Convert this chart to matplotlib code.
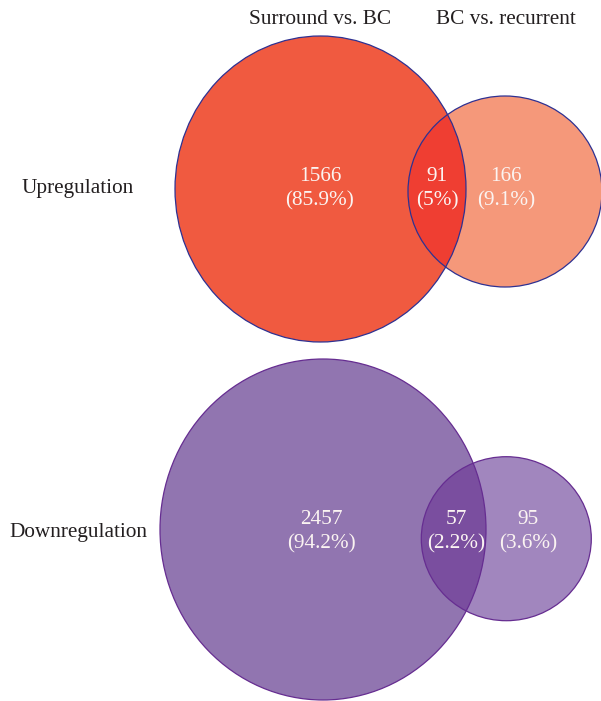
#%% Imports
import numpy as np
import matplotlib
matplotlib.use('Agg')
import matplotlib.pyplot as plt
from matplotlib.patches import Ellipse


#%% Data
set_names = ['Surround vs. BC', 'BC vs. recurrent']
row_names = ['Upregulation', 'Downregulation']
# counts: only left, shared, only right
up_counts = [1566, 91, 166]
down_counts = [2457, 57, 95]


#%% Layout (pixel space of a 601x701 canvas)
# each row: (big centre x, centre y, width, height), (small centre x, centre y, width, height)
rows = [
    {'counts': up_counts, 'label': row_names[0], 'label_y': 189, 'num_y': 189,
     'big': (320.5, 189, 291, 306), 'small': (505, 191.5, 194, 191),
     'colors': ('#F05A40', '#EF3E32', '#F5987A'), 'edge': '#2E3192',
     'text_x': (320, 437, 506)},
    {'counts': down_counts, 'label': row_names[1], 'label_y': 532, 'num_y': 532,
     'big': (323, 529.5, 326, 341), 'small': (506.3, 538.7, 170, 164),
     'colors': ('#9175B0', '#7A4E9F', '#A186BE'), 'edge': '#662D91',
     'text_x': (321, 456, 528)},
]


def fmt_pct(v, total):
    s = f"{100 * v / total:.1f}"
    if s.endswith('.0'):
        s = s[:-2]
    return f"({s}%)"


#%% Plot
plt.rcParams['font.family'] = ['Liberation Serif', 'DejaVu Serif']
fig = plt.figure(figsize=(6.01, 7.01), dpi=100)
ax = fig.add_axes([0, 0, 1, 1])
ax.set_xlim(0, 601)
ax.set_ylim(701, 0)
ax.axis('off')

txt_color = '#231F20'
fs = 15.3

ax.text(320, 20, set_names[0], ha='center', va='center', fontsize=fs, color=txt_color)
ax.text(506, 20, set_names[1], ha='center', va='center', fontsize=fs, color=txt_color)

for r in rows:
    bx, by, bw, bh = r['big']
    sx, sy, sw, sh = r['small']
    c_big, c_mid, c_small = r['colors']
    big = Ellipse((bx, by), bw, bh, facecolor=c_big, edgecolor='none', zorder=1)
    small = Ellipse((sx, sy), sw, sh, facecolor=c_small, edgecolor='none', zorder=1)
    ax.add_patch(big)
    ax.add_patch(small)
    mid = Ellipse((sx, sy), sw, sh, facecolor=c_mid, edgecolor='none', zorder=2)
    ax.add_patch(mid)
    mid.set_clip_path(big)
    for e in [(bx, by, bw, bh), (sx, sy, sw, sh)]:
        ax.add_patch(Ellipse(e[:2], e[2], e[3], facecolor='none',
                             edgecolor=r['edge'], linewidth=0.9, zorder=3))

    total = sum(r['counts'])
    for x, v in zip(r['text_x'], r['counts']):
        ax.text(x, r['num_y'], f"{v}\n{fmt_pct(v, total)}", ha='center', va='center',
                fontsize=fs, color='#FBF4F2', linespacing=1.38, zorder=4)

    ax.text(78, r['label_y'], r['label'], ha='center', va='center', fontsize=fs, color=txt_color)

fig.savefig('out.png', dpi=100)
